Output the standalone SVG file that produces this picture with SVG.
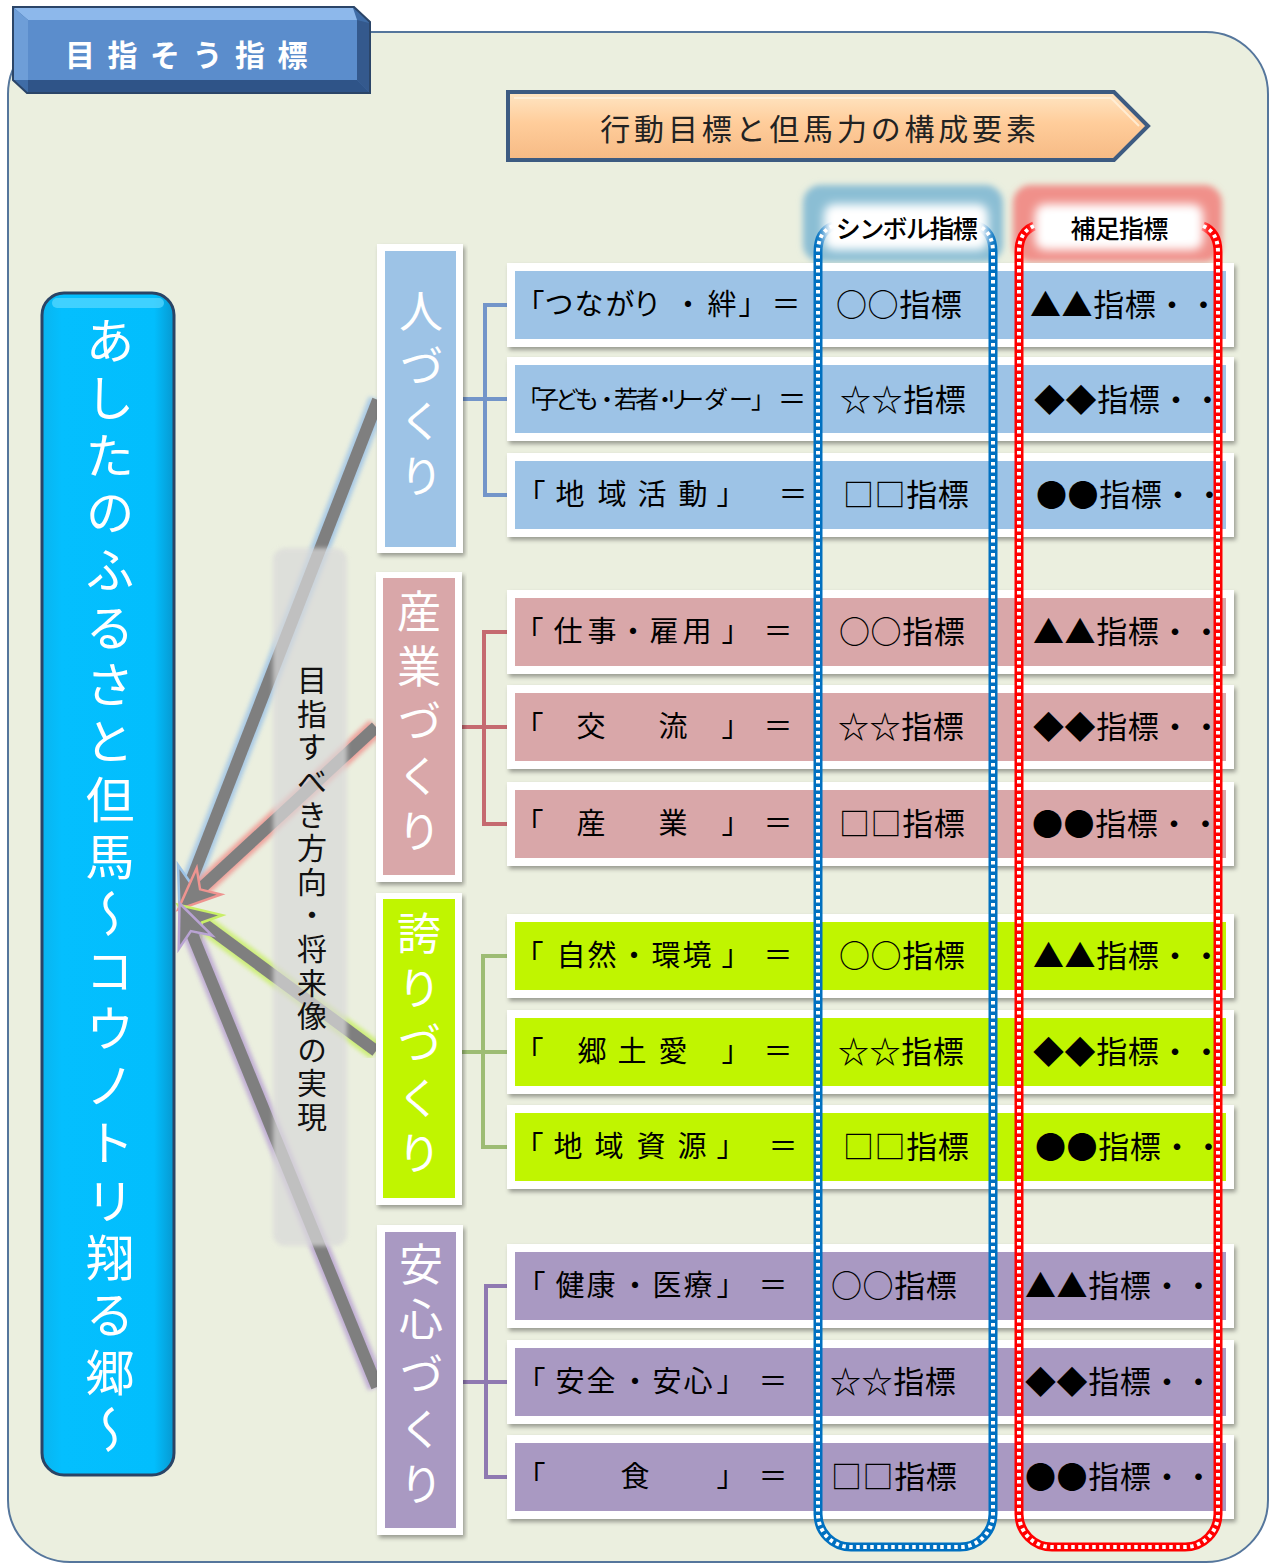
<svg xmlns="http://www.w3.org/2000/svg" width="1272" height="1566" viewBox="0 0 1272 1566">
<defs>
<filter id="sh" x="-5%" y="-20%" width="110%" height="150%"><feDropShadow dx="2" dy="3" stdDeviation="2" flood-color="#000" flood-opacity="0.35"/></filter>
<filter id="blur3" x="-20%" y="-20%" width="140%" height="140%"><feGaussianBlur stdDeviation="3"/></filter>
<filter id="blur5" x="-20%" y="-30%" width="140%" height="160%"><feGaussianBlur stdDeviation="5"/></filter>
<filter id="blur2" x="-20%" y="-5%" width="140%" height="110%"><feGaussianBlur stdDeviation="2"/></filter>
<linearGradient id="peach" x1="0" y1="0" x2="0" y2="1"><stop offset="0" stop-color="#FFE6C4"/><stop offset="0.45" stop-color="#FFCD9B"/><stop offset="1" stop-color="#F6BA84"/></linearGradient>
<linearGradient id="cyan" x1="0" y1="0" x2="1" y2="0"><stop offset="0" stop-color="#0AB4EE"/><stop offset="0.15" stop-color="#04BFFE"/><stop offset="0.85" stop-color="#02BEFD"/><stop offset="1" stop-color="#0798D0"/></linearGradient>
<marker id="hB" markerUnits="userSpaceOnUse" orient="auto" refX="0" refY="0" markerWidth="50" markerHeight="50" overflow="visible"><path d="M28 0 L-14 -18 L-2 0 L-14 18 Z" fill="#7F7F7F" stroke="#9DC3E6" stroke-width="2.5"/></marker>
<marker id="hP" markerUnits="userSpaceOnUse" orient="auto" refX="0" refY="0" markerWidth="50" markerHeight="50" overflow="visible"><path d="M28 0 L-14 -18 L-2 0 L-14 18 Z" fill="#7F7F7F" stroke="#EE9490" stroke-width="2.5"/></marker>
<marker id="hG" markerUnits="userSpaceOnUse" orient="auto" refX="0" refY="0" markerWidth="50" markerHeight="50" overflow="visible"><path d="M28 0 L-14 -18 L-2 0 L-14 18 Z" fill="#7F7F7F" stroke="#C8EE66" stroke-width="2.5"/></marker>
<marker id="hV" markerUnits="userSpaceOnUse" orient="auto" refX="0" refY="0" markerWidth="50" markerHeight="50" overflow="visible"><path d="M28 0 L-14 -18 L-2 0 L-14 18 Z" fill="#7F7F7F" stroke="#B9A3D3" stroke-width="2.5"/></marker>
</defs>
<style>
text{font-family:"Noto Sans CJK JP","Noto Sans CJK SC",sans-serif;dominant-baseline:central}
.frame{fill:#fff;filter:url(#sh)}
.lbl{font-size:29px;fill:#000;text-anchor:middle}
.lbl2{font-size:24px;fill:#000;text-anchor:middle}
.val{font-size:31px;fill:#000;letter-spacing:0.6px}
.vert{writing-mode:vertical-rl;text-anchor:middle}
.cat{font-size:44px;fill:#fff;letter-spacing:11px}
.glow{fill:none;stroke-width:19;opacity:0.85;filter:url(#blur2)}
.shaft{fill:none;stroke:#7F7F7F;stroke-width:12}
.brk{fill:none;stroke-width:4}
.loopc{fill:none;stroke-width:9}
.loopd{fill:none;stroke:#fff;stroke-width:4;stroke-dasharray:3.5 3.5}
.blue{fill:#9DC3E6}.pink{fill:#D9A7A9}.lime{fill:#C0F500}.purp{fill:#A999C2}
</style>

<!-- background panel -->
<rect x="8" y="32" width="1260" height="1530" rx="62" fill="#EBEFDF" stroke="#55769C" stroke-width="2"/>

<!-- title -->
<g id="title">
<path d="M13 7 L354 7 L370 22 L370 93 L27 93 L13 80 Z" fill="#3F6CA6" stroke="#2B4568" stroke-width="2"/>
<path d="M14 8 L353 8 L357 20 L28 20 Z" fill="#8DB8EB"/>
<path d="M14 8 L28 20 L28 80 L14 80 Z" fill="#6E9ED8"/>
<path d="M28 80 L357 80 L369 92 L28 92 Z" fill="#2F5488"/>
<path d="M357 20 L369 23 L369 92 L357 80 Z" fill="#34598D"/>
<rect x="28" y="20" width="329" height="60" fill="#5B8DCC"/>
<text x="65" y="53" font-size="30" font-weight="bold" fill="#fff" letter-spacing="12.5">目指そう指標</text>
</g>

<!-- banner -->
<g id="banner">
<path d="M508 92 L1114 92 L1148 126 L1114 160 L508 160 Z" fill="url(#peach)" stroke="#3D5B81" stroke-width="4"/>
<path d="M514 98 L1111 98 L1139 126" fill="none" stroke="#FFF1DC" stroke-width="2" opacity="0.8"/>
<text x="820" y="127" font-size="30" fill="#222" letter-spacing="3.8" text-anchor="middle">行動目標と但馬力の構成要素</text>
</g>

<!-- header backgrounds -->
<g id="header-symbol-bg">
<rect x="803" y="185" width="200" height="77" rx="18" fill="#8BBED4" filter="url(#blur3)"/>
</g>
<g id="header-supp-bg">
<rect x="1013" y="185" width="209" height="77" rx="18" fill="#F0908A" filter="url(#blur3)"/>
</g>

<!-- connectors -->
<g id="connectors">
<path class="glow" stroke="#9DC3E6" d="M378 400 L189.7 884.6"/>
<path class="shaft" d="M378 400 L189.7 884.6" marker-end="url(#hB)"/>
<path class="glow" stroke="#EE9490" d="M376 727 L198.6 890.7"/>
<path class="shaft" d="M376 727 L198.6 890.7" marker-end="url(#hP)"/>
<path class="glow" stroke="#C8EE66" d="M376 1051 L200.3 921.3"/>
<path class="shaft" d="M376 1051 L200.3 921.3" marker-end="url(#hG)"/>
<path class="glow" stroke="#B9A3D3" d="M377 1387 L190.1 929.2"/>
<path class="shaft" d="M377 1387 L190.1 929.2" marker-end="url(#hV)"/>
<path class="brk" stroke="#7395C9" d="M507 305 H485 V495 H507 M463 399 H507"/>
<path class="brk" stroke="#C56A70" d="M507 632 H484 V824 H507 M462 727 H507"/>
<path class="brk" stroke="#9DBC74" d="M507 956 H483 V1147 H507 M462 1052 H507"/>
<path class="brk" stroke="#8F79B1" d="M507 1286 H486 V1477 H507 M463 1382 H507"/>
</g>

<!-- direction panel -->
<g id="direction">
<rect x="273" y="548" width="74" height="698" rx="12" fill="#D9D9D9" opacity="0.72" filter="url(#blur2)"/>
<text class="vert" x="312" y="900" font-size="30" fill="#111" letter-spacing="3.6">目指すべき方向・将来像の実現</text>
</g>

<!-- category boxes -->
<g id="cat-hito">
<rect class="frame" x="377" y="244" width="86" height="309"/>
<rect class="blue" x="385" y="251" width="71" height="296"/>
<text class="vert cat" x="421" y="399">人づくり</text>
</g>
<g id="cat-sangyo">
<rect class="frame" x="376" y="572" width="86" height="310"/>
<rect class="pink" x="383" y="578" width="72" height="297"/>
<text class="vert cat" x="419" y="727">産業づくり</text>
</g>
<g id="cat-hokori">
<rect class="frame" x="376" y="893" width="86" height="312"/>
<rect class="lime" x="383" y="899" width="72" height="299"/>
<text class="vert cat" x="419" y="1049">誇りづくり</text>
</g>
<g id="cat-anshin">
<rect class="frame" x="377" y="1225" width="86" height="310"/>
<rect class="purp" x="385" y="1232" width="71" height="296"/>
<text class="vert cat" x="421" y="1380">安心づくり</text>
</g>

<!-- rows: 人づくり -->
<g id="row-h1">
<rect class="frame" x="507" y="263" width="727" height="84"/><rect class="blue" x="515" y="271" width="711" height="68"/>
<text class="lbl" x="530 559 589 620 647 688 722 753" y="302">「つながり・絆」</text>
<text class="lbl" x="786" y="302">＝</text>
<text class="val" x="836" y="302">○○指標</text>
<text class="val" x="1030" y="302">▲▲指標・・</text>
</g>
<g id="row-h2">
<rect class="frame" x="507" y="357" width="727" height="84"/><rect class="blue" x="515" y="365" width="711" height="68"/>
<text class="lbl2" x="529 547 567 587 607 626 647 665 677 692 716 741 763" y="397">「子ども・若者・リーダー」</text>
<text class="lbl" x="792" y="397">＝</text>
<text class="val" x="840" y="397">☆☆指標</text>
<text class="val" x="1034" y="397">◆◆指標・・</text>
</g>
<g id="row-h3">
<rect class="frame" x="507" y="453" width="727" height="84"/><rect class="blue" x="515" y="461" width="711" height="68"/>
<text class="lbl" x="531 570 612 652 693 731" y="492" font-size="31">「地域活動」</text>
<text class="lbl" x="793" y="492">＝</text>
<text class="val" x="843" y="492">□□指標</text>
<text class="val" x="1036" y="492">●●指標・・</text>
</g>

<!-- rows: 産業づくり -->
<g id="row-s1">
<rect class="frame" x="507" y="590" width="727" height="84"/><rect class="pink" x="515" y="598" width="711" height="68"/>
<text class="lbl" x="529 568 602 633 664 697 736" y="629" font-size="31">「仕事・雇用」</text>
<text class="lbl" x="778" y="629">＝</text>
<text class="val" x="839" y="629">○○指標</text>
<text class="val" x="1033" y="629">▲▲指標・・</text>
</g>
<g id="row-s2">
<rect class="frame" x="507" y="685" width="727" height="84"/><rect class="pink" x="515" y="693" width="711" height="68"/>
<text class="lbl" x="529 591 673 736" y="724" font-size="31">「交流」</text>
<text class="lbl" x="778" y="724">＝</text>
<text class="val" x="838" y="724">☆☆指標</text>
<text class="val" x="1033" y="724">◆◆指標・・</text>
</g>
<g id="row-s3">
<rect class="frame" x="507" y="782" width="727" height="84"/><rect class="pink" x="515" y="790" width="711" height="68"/>
<text class="lbl" x="529 591 673 736" y="821" font-size="31">「産業」</text>
<text class="lbl" x="778" y="821">＝</text>
<text class="val" x="839" y="821">□□指標</text>
<text class="val" x="1032" y="821">●●指標・・</text>
</g>

<!-- rows: 誇りづくり -->
<g id="row-k1">
<rect class="frame" x="507" y="914" width="727" height="84"/><rect class="lime" x="515" y="922" width="711" height="68"/>
<text class="lbl" x="529 571 602 634 666 697 736" y="953" font-size="31">「自然・環境」</text>
<text class="lbl" x="778" y="953">＝</text>
<text class="val" x="839" y="953">○○指標</text>
<text class="val" x="1033" y="953">▲▲指標・・</text>
</g>
<g id="row-k2">
<rect class="frame" x="507" y="1010" width="727" height="84"/><rect class="lime" x="515" y="1018" width="711" height="68"/>
<text class="lbl" x="529 592 632 673 736" y="1049" font-size="31">「郷土愛」</text>
<text class="lbl" x="778" y="1049">＝</text>
<text class="val" x="838" y="1049">☆☆指標</text>
<text class="val" x="1033" y="1049">◆◆指標・・</text>
</g>
<g id="row-k3">
<rect class="frame" x="507" y="1105" width="727" height="84"/><rect class="lime" x="515" y="1113" width="711" height="68"/>
<text class="lbl" x="529 568 609 651 692 731" y="1144" font-size="31">「地域資源」</text>
<text class="lbl" x="783" y="1144">＝</text>
<text class="val" x="843" y="1144">□□指標</text>
<text class="val" x="1035" y="1144">●●指標・・</text>
</g>

<!-- rows: 安心づくり -->
<g id="row-a1">
<rect class="frame" x="507" y="1244" width="727" height="84"/><rect class="purp" x="515" y="1252" width="711" height="68"/>
<text class="lbl" x="531 570 601 635 667 698 731" y="1283" font-size="31">「健康・医療」</text>
<text class="lbl" x="773" y="1283">＝</text>
<text class="val" x="831" y="1283">○○指標</text>
<text class="val" x="1025" y="1283">▲▲指標・・</text>
</g>
<g id="row-a2">
<rect class="frame" x="507" y="1340" width="727" height="84"/><rect class="purp" x="515" y="1348" width="711" height="68"/>
<text class="lbl" x="531 570 601 635 667 698 731" y="1379" font-size="31">「安全・安心」</text>
<text class="lbl" x="773" y="1379">＝</text>
<text class="val" x="830" y="1379">☆☆指標</text>
<text class="val" x="1025" y="1379">◆◆指標・・</text>
</g>
<g id="row-a3">
<rect class="frame" x="507" y="1435" width="727" height="84"/><rect class="purp" x="515" y="1443" width="711" height="68"/>
<text class="lbl" x="531 635 731" y="1474" font-size="31">「食」</text>
<text class="lbl" x="773" y="1474">＝</text>
<text class="val" x="831" y="1474">□□指標</text>
<text class="val" x="1025" y="1474">●●指標・・</text>
</g>

<!-- main goal bar -->
<g id="goal">
<rect x="42" y="293" width="132" height="1182" rx="22" fill="url(#cyan)" stroke="#2A4466" stroke-width="3"/>
<rect x="52" y="298" width="112" height="10" rx="5" fill="#5AD8FF" opacity="0.7"/>
<text class="vert" x="110" y="889" font-size="49" fill="#fff" letter-spacing="8.3">あしたのふるさと但馬～コウノトリ翔る郷～</text>
</g>

<!-- dotted loops -->
<g id="loop-symbol">
<path class="loopc" stroke="#0070C0" d="M833 226 Q818 232 818 252 L818 1514 A33 33 0 0 0 851 1547 L960 1547 A33 33 0 0 0 993 1514 L993 252 Q993 232 978 226"/>
<path class="loopd" d="M833 226 Q818 232 818 252 L818 1514 A33 33 0 0 0 851 1547 L960 1547 A33 33 0 0 0 993 1514 L993 252 Q993 232 978 226"/>
</g>
<g id="loop-supp">
<path class="loopc" stroke="#FF0000" d="M1034 226 Q1019 232 1019 252 L1019 1514 A33 33 0 0 0 1052 1547 L1185 1547 A33 33 0 0 0 1218 1514 L1218 252 Q1218 232 1203 226"/>
<path class="loopd" d="M1034 226 Q1019 232 1019 252 L1019 1514 A33 33 0 0 0 1052 1547 L1185 1547 A33 33 0 0 0 1218 1514 L1218 252 Q1218 232 1203 226"/>
</g>

<!-- header labels -->
<g id="header-symbol">
<rect x="824" y="204" width="164" height="46" rx="10" fill="#fff" filter="url(#blur5)"/>
<text x="906" y="227" font-size="25" font-weight="500" fill="#000" letter-spacing="-1.6" text-anchor="middle">シンボル指標</text>
</g>
<g id="header-supp">
<rect x="1035" y="204" width="168" height="46" rx="10" fill="#fff" filter="url(#blur5)"/>
<text x="1119" y="227" font-size="25" font-weight="500" fill="#000" letter-spacing="-0.8" text-anchor="middle">補足指標</text>
</g>
</svg>
